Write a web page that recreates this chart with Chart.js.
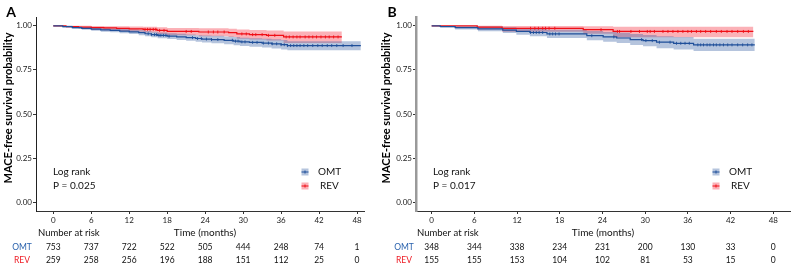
<!DOCTYPE html>
<html>
<head>
<meta charset="utf-8">
<script src="https://cdn.jsdelivr.net/npm/chart.js@4.4.1/dist/chart.umd.min.js"></script>
<style>
  html, body { margin: 0; padding: 0; background: #fff; }
  #wrap { position: relative; width: 795px; height: 268px; overflow: hidden; }
  canvas { position: absolute; top: 0; }
  #cA { left: 0; }
  #cB { left: 378px; }
</style>
</head>
<body>
<div id="wrap">
  <canvas id="cA" width="378" height="268"></canvas>
  <canvas id="cB" width="417" height="268"></canvas>
</div>
<script>
// ---- data ----
const xTicks = [0, 6, 12, 18, 24, 30, 36, 42, 48];
const yTicks = [0, 0.25, 0.5, 0.75, 1];
const groups = ['OMT', 'REV'];

// panel A, OMT
const aOmtTime  = [0, 1.5, 3, 4.5, 6, 7.5, 9, 10.5, 12, 13.5, 14.5, 15.5, 16.5, 18, 19.5, 21, 22.5, 23.5, 25, 27, 28.5, 29.5, 31, 33, 34.5, 36, 37, 48.6];
const aOmtSurv  = [1, 0.995, 0.99, 0.985, 0.981, 0.977, 0.974, 0.97, 0.966, 0.961, 0.955, 0.95, 0.946, 0.941, 0.937, 0.933, 0.928, 0.925, 0.922, 0.918, 0.913, 0.909, 0.906, 0.902, 0.898, 0.893, 0.888, 0.888];
const aOmtLow   = [1, 0.99, 0.984, 0.977, 0.972, 0.967, 0.963, 0.958, 0.953, 0.947, 0.941, 0.935, 0.93, 0.925, 0.92, 0.915, 0.909, 0.905, 0.901, 0.896, 0.89, 0.886, 0.882, 0.877, 0.872, 0.866, 0.862, 0.862];
const aOmtHigh  = [1, 1, 0.996, 0.993, 0.99, 0.987, 0.985, 0.982, 0.979, 0.975, 0.97, 0.966, 0.962, 0.958, 0.955, 0.951, 0.947, 0.945, 0.943, 0.94, 0.936, 0.933, 0.93, 0.927, 0.924, 0.92, 0.912, 0.912];
const aOmtCens  = [15, 15.5, 16, 16.3, 16.7, 17, 17.4, 17.8, 18.3, 22, 22.8, 23.4, 24.2, 25, 26, 28.3, 28.8, 29.2, 29.8, 30.3, 31.5, 32.2, 33.2, 34, 34.6, 35.3, 36, 36.5, 37, 37.5, 38, 38.5, 39, 39.6, 40.2, 41, 41.8, 42.5, 43.3, 44, 44.8, 45.8, 47.2];

// panel A, REV
const aRevTime  = [0, 2, 4, 6, 8, 10, 12, 14.2, 16.4, 18, 23, 27.7, 29, 31, 33.7, 36.4, 45.6];
const aRevSurv  = [1, 0.996, 0.993, 0.99, 0.988, 0.985, 0.983, 0.98, 0.974, 0.968, 0.965, 0.961, 0.954, 0.95, 0.946, 0.937, 0.937];
const aRevLow   = [1, 0.988, 0.983, 0.978, 0.975, 0.97, 0.967, 0.962, 0.954, 0.946, 0.941, 0.936, 0.927, 0.922, 0.917, 0.903, 0.903];
const aRevHigh  = [1, 1, 1, 0.999, 0.998, 0.997, 0.996, 0.995, 0.992, 0.988, 0.986, 0.984, 0.979, 0.976, 0.973, 0.968, 0.968];
const aRevCens  = [14.5, 14.9, 15.3, 15.8, 16.2, 16.8, 17.5, 21, 21.8, 24.5, 25.3, 26, 27, 29.8, 30.5, 31.5, 32, 33, 34, 35, 36.8, 37.3, 37.9, 38.5, 39, 39.8, 40.4, 41, 41.6, 42.3, 43, 43.6, 44.3, 45];

// panel B, OMT
const bOmtTime  = [0, 1.2, 3.3, 6.5, 10, 11.9, 13.8, 16.2, 21.8, 24.1, 26, 27.9, 29.7, 31.6, 34, 36.8, 45.4];
const bOmtSurv  = [1, 0.996, 0.99, 0.983, 0.976, 0.968, 0.962, 0.954, 0.944, 0.937, 0.931, 0.922, 0.916, 0.907, 0.901, 0.892, 0.892];
const bOmtLow   = [1, 0.988, 0.979, 0.969, 0.959, 0.949, 0.941, 0.931, 0.918, 0.909, 0.902, 0.891, 0.884, 0.873, 0.866, 0.857, 0.857];
const bOmtHigh  = [1, 1, 1, 0.996, 0.992, 0.987, 0.983, 0.977, 0.97, 0.965, 0.96, 0.953, 0.948, 0.941, 0.936, 0.927, 0.927];
const bOmtCens  = [13.9, 14.3, 14.7, 15.1, 15.6, 16.6, 17, 17.4, 17.9, 22.5, 25.6, 29.5, 30.1, 31, 32, 33.5, 34.4, 35, 35.6, 36.2, 37.4, 37.8, 38.2, 38.7, 39.1, 39.6, 40, 40.5, 41, 41.6, 42.2, 43, 43.7, 44.4, 45];

// panel B, REV
const bRevTime  = [0, 6.4, 9.9, 21.3, 25.5, 45.2];
const bRevSurv  = [1, 0.993, 0.986, 0.978, 0.968, 0.968];
const bRevLow   = [1, 0.98, 0.967, 0.955, 0.935, 0.935];
const bRevHigh  = [1, 1, 0.999, 0.997, 0.995, 0.995];
const bRevCens  = [13.9, 14.5, 15, 15.6, 16, 16.5, 17.3, 23.8, 26.1, 26.4, 28, 29.2, 30.3, 30.7, 31.3, 32.5, 33.2, 33.9, 34.6, 35.3, 36, 36.5, 37.2, 37.8, 38.5, 39.2, 40, 40.7, 41.5, 42.2, 43, 43.8, 44.5];

// number at risk
const aRiskOmt = [753, 737, 722, 522, 505, 444, 248, 74, 1];
const aRiskRev = [259, 258, 256, 196, 188, 151, 112, 25, 0];
const bRiskOmt = [348, 344, 338, 234, 231, 200, 130, 33, 0];
const bRiskRev = [155, 155, 153, 104, 102, 81, 53, 15, 0];

// ---- colours ----
const BLUE = '#1f4f9a';
const BLUE_BAND = 'rgba(60,100,165,0.38)';
const RED = '#f00e16';
const RED_BAND = 'rgba(245,40,55,0.36)';
const FONT = 'Lato, "Open Sans", sans-serif';

const pts = (t, v) => t.map((x, i) => ({ x: x, y: v[i] }));
const survAt = (t, v, x) => {
  let k = 0;
  for (let i = 0; i < t.length; i++) if (t[i] <= x) k = i;
  return v[k];
};

function curveSets(time, surv, low, high, cens, line, band) {
  return [
    { data: pts(time, low), stepped: true, borderWidth: 0, pointRadius: 0, fill: false, order: 2 },
    { data: pts(time, high), stepped: true, borderWidth: 0, pointRadius: 0, fill: '-1', backgroundColor: band, order: 2 },
    { data: pts(time, surv), stepped: true, borderColor: line, borderWidth: 1.2, pointRadius: 0, fill: false, order: 1 },
    { data: cens.map(c => ({ x: c, y: survAt(time, surv, c) })), showLine: false, pointStyle: 'line', rotation: 90,
      pointRadius: 1.5, borderColor: line, borderWidth: 0.9, order: 0 }
  ];
}

// text, legend and risk table
const kmText = {
  id: 'kmText',
  afterDraw(chart) {
    const o = chart.options.plugins.kmText;
    const ctx = chart.ctx;
    const x = chart.scales.x;
    ctx.save();
    ctx.textBaseline = 'middle';

    ctx.fillStyle = '#000';
    ctx.font = 'bold 14px ' + FONT;
    ctx.textAlign = 'center';
    ctx.fillText(o.letter, o.letterX, 12);

    ctx.save();
    ctx.translate(o.titleX, 108);
    ctx.rotate(-Math.PI / 2);
    ctx.font = 'bold 11px ' + FONT;
    ctx.fillText('MACE-free survival probability', 0, 0);
    ctx.restore();

    ctx.font = '10px ' + FONT;
    ctx.textAlign = 'left';
    ctx.fillStyle = '#111';
    ctx.fillText('Log rank', o.logX, 172);
    ctx.fillText('P = ' + o.p, o.logX, 186);

    // legend
    const sw = [[BLUE, BLUE_BAND, 172], [RED, RED_BAND, 186]];
    sw.forEach((s, i) => {
      ctx.fillStyle = s[1];
      ctx.fillRect(o.legX - 3.5, s[2] - 3.5, 7, 7);
      ctx.strokeStyle = s[0];
      ctx.lineWidth = 1;
      ctx.beginPath();
      ctx.moveTo(o.legX - 3.5, s[2]); ctx.lineTo(o.legX + 3.5, s[2]);
      ctx.moveTo(o.legX, s[2] - 1.5); ctx.lineTo(o.legX, s[2] + 1.5);
      ctx.stroke();
      ctx.fillStyle = '#111';
      ctx.fillText(groups[i], o.legX + (i ? 15 : 13), s[2]);
    });

    ctx.font = '10px ' + FONT;
    ctx.textAlign = 'center';
    ctx.fillText('Time (months)', o.timeX, 233);
    ctx.textAlign = 'left';
    ctx.font = '9.5px ' + FONT;
    ctx.fillText('Number at risk', o.riskX, 233);

    ctx.font = '8.5px ' + FONT;
    ctx.textAlign = 'center';
    ctx.fillStyle = '#2a62ad';
    ctx.fillText('OMT', o.rowX, 247);
    ctx.fillStyle = '#ee1c25';
    ctx.fillText('REV', o.rowX, 260);
    ctx.fillStyle = '#111';
    xTicks.forEach((t, i) => {
      const px = x.getPixelForValue(t);
      ctx.fillText(String(o.risk[0][i]), px, 247);
      ctx.fillText(String(o.risk[1][i]), px, 260);
    });
    ctx.restore();
  }
};

function makePanel(id, sets, o) {
  new Chart(document.getElementById(id), {
    type: 'line',
    data: { datasets: sets },
    plugins: [kmText],
    options: {
      responsive: false,
      animation: false,
      devicePixelRatio: 1,
      layout: { padding: { top: 17, right: o.padRight, bottom: 37, left: 0 } },
      plugins: { legend: { display: false }, tooltip: { enabled: false }, kmText: o },
      scales: {
        x: {
          type: 'linear', min: o.xMin, max: o.xMax,
          afterBuildTicks: s => { s.ticks = xTicks.map(v => ({ value: v })); },
          afterFit: s => { s.height = 20; },
          grid: { display: true, drawOnChartArea: false, drawTicks: true, tickLength: 3, color: '#333' },
          border: { display: true, color: '#333', width: 1 },
          ticks: { font: { family: FONT, size: 8 }, color: '#222', padding: 2, maxRotation: 0 }
        },
        y: {
          min: -0.05, max: 1.05,
          afterBuildTicks: s => { s.ticks = yTicks.map(v => ({ value: v })); },
          afterFit: s => { s.width = o.yWidth; },
          grid: { display: true, drawOnChartArea: false, drawTicks: true, tickLength: 3, color: '#333' },
          border: { display: true, color: o.yAxisColor, width: o.yAxisWidth },
          ticks: { font: { family: FONT, size: 8 }, color: '#222', padding: 1, callback: v => v.toFixed(2) }
        }
      }
    }
  });
}

makePanel('cA',
  curveSets(aOmtTime, aOmtSurv, aOmtLow, aOmtHigh, aOmtCens, BLUE, BLUE_BAND)
    .concat(curveSets(aRevTime, aRevSurv, aRevLow, aRevHigh, aRevCens, RED, RED_BAND)),
  { letter: 'A', letterX: 11, titleX: 8, p: '0.025', logX: 53, legX: 305, timeX: 205, riskX: 38, rowX: 22,
    risk: [aRiskOmt, aRiskRev], xMin: -2.73, xMax: 49.1, yWidth: 36, padRight: 14, yAxisColor: '#222', yAxisWidth: 1 });

makePanel('cB',
  curveSets(bOmtTime, bOmtSurv, bOmtLow, bOmtHigh, bOmtCens, BLUE, BLUE_BAND)
    .concat(curveSets(bRevTime, bRevSurv, bRevLow, bRevHigh, bRevCens, RED, RED_BAND)),
  { letter: 'B', letterX: 14, titleX: 8, p: '0.017', logX: 55, legX: 338, timeX: 225, riskX: 39, rowX: 26,
    risk: [bRiskOmt, bRiskRev], xMin: -2.2, xMax: 50.35, yWidth: 38, padRight: 5, yAxisColor: '#9a9a9a', yAxisWidth: 2.5 });
</script>
</body>
</html>
